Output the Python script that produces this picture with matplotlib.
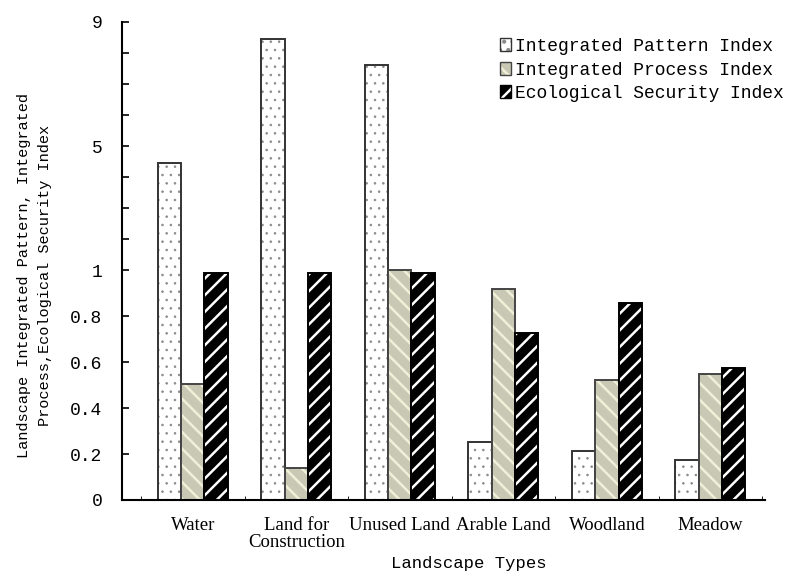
import numpy as np
import matplotlib
matplotlib.use("Agg")
import matplotlib.pyplot as plt
from matplotlib.patches import Patch
from matplotlib.legend_handler import HandlerTuple

categories = ["Water", "Land for\nConstruction", "Unused Land", "Arable Land", "Woodland", "Meadow"]
pattern_index = [4.45, 8.45, 7.6, 0.253, 0.214, 0.175]
process_index = [0.507, 0.14, 1.01, 0.917, 0.524, 0.55]
security_index = [0.987, 0.99, 0.99, 0.729, 0.86, 0.576]
series_names = ["Integrated Pattern Index", "Integrated Process Index", "Ecological Security Index"]
ytick_vals = [0, 0.2, 0.4, 0.6, 0.8, 1, 5, 9]
ytick_labels = ["0", "0.2", "0.4", "0.6", "0.8", "1", "5", "9"]
ytick_minor = [2, 3, 4, 6, 7, 8]

MONO = "Liberation Mono"
SERIF = "Liberation Serif"

# axis is linear up to 1, compressed above
K = 31.0 / 229.0


def fwd(y):
    y = np.asarray(y, dtype=float)
    return np.where(y <= 1, y, 1 + (y - 1) * K)


def inv(t):
    t = np.asarray(t, dtype=float)
    return np.where(t <= 1, t, 1 + (t - 1) / K)


fig = plt.figure(figsize=(8.01, 5.74), dpi=100)
ax = fig.add_axes([0.152, 0.129, 0.803, 0.833])
ax.set_yscale("function", functions=(fwd, inv))

x = np.arange(len(categories))
w = 0.225

styles = [
    dict(fc="white", hc="#8a8a8a", hatch="..", ec="#333333", hlw=0.6),
    dict(fc="#c9c8b4", hc="#f0f0d8", hatch="\\\\", ec="#444444", hlw=1.8),
    dict(fc="black", hc="white", hatch="//", ec="black", hlw=1.8),
]
handles = []
for i, (vals, st) in enumerate(zip([pattern_index, process_index, security_index], styles)):
    plt.rcParams["hatch.linewidth"] = st["hlw"]
    xs = x + (i - 1) * w
    ax.bar(xs, vals, w, color=st["fc"], edgecolor=st["hc"], hatch=st["hatch"], linewidth=0)
    ax.bar(xs, vals, w, fill=False, edgecolor=st["ec"], linewidth=1.4)
    handles.append((Patch(facecolor=st["fc"], edgecolor=st["hc"], hatch=st["hatch"], linewidth=0),
                    Patch(fill=False, edgecolor=st["ec"], linewidth=1.0)))

ax.set_xlim(-0.686, 5.527)
ax.set_ylim(0, 9)

ax.set_yticks(ytick_vals)
ax.set_yticklabels(ytick_labels, fontfamily=MONO, fontsize=13)
ax.set_yticks(ytick_minor, minor=True)
ax.set_xticks(x)
ax.set_xticklabels(categories, fontfamily=SERIF, fontsize=13.5, linespacing=1.0)
ax.set_xticks(np.arange(-0.5, len(categories)), minor=True)
ax.tick_params(axis="x", which="major", length=0, pad=12)
ax.tick_params(axis="x", which="minor", direction="in", length=3)
ax.tick_params(axis="y", which="both", direction="in", length=5, width=1.2, pad=14)

for s in ["top", "right"]:
    ax.spines[s].set_visible(False)
for s in ["left", "bottom"]:
    ax.spines[s].set_linewidth(1.5)

ax.set_ylabel("Landscape Integrated Pattern, Integrated\nProcess,Ecological Security Index",
              fontfamily=MONO, fontsize=11, linespacing=1.6)
ax.yaxis.set_label_coords(-0.109, 0.469)
ax.set_xlabel("Landscape Types", fontfamily=MONO, fontsize=12.4)
ax.xaxis.set_label_coords(0.54, -0.117)

ax.legend(handles, series_names, handler_map={tuple: HandlerTuple(ndivide=1)},
          loc="upper right", bbox_to_anchor=(1.054, 1.0), frameon=False,
          prop={"family": MONO, "size": 13}, handlelength=0.6, handleheight=0.7,
          handletextpad=0.2, labelspacing=0.36, borderaxespad=0.5)

fig.savefig("out.png", dpi=100)
